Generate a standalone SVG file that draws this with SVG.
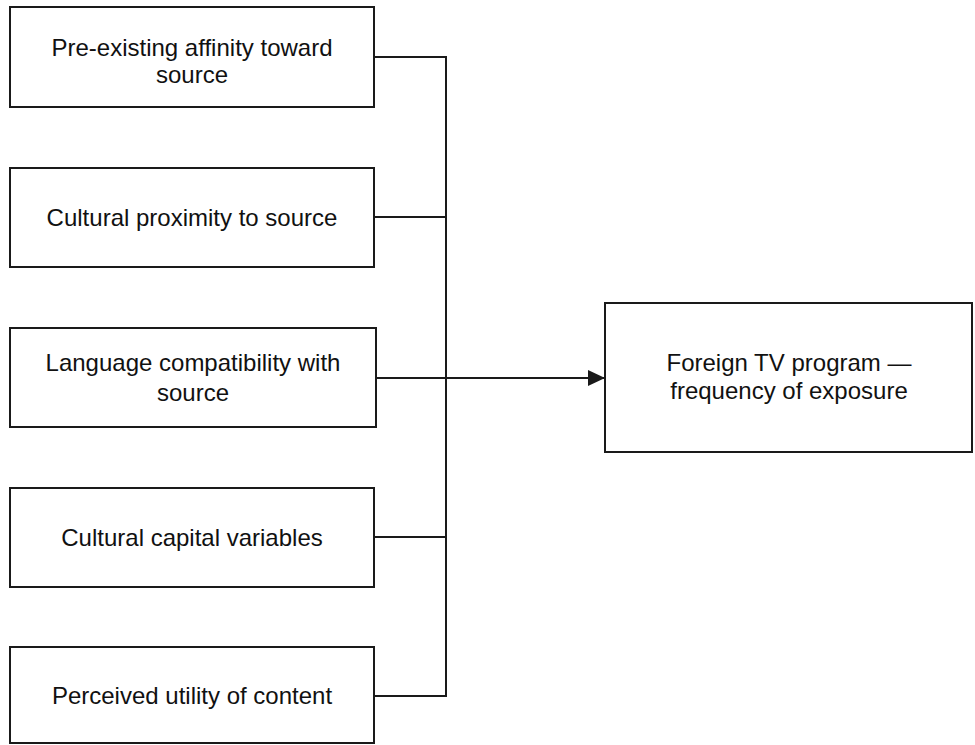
<svg xmlns="http://www.w3.org/2000/svg" width="975" height="745" viewBox="0 0 975 745">
<style>
.box{fill:#fff;stroke:#1a1a1a;stroke-width:2}
.t{font-family:"Liberation Sans",Arial,sans-serif;font-size:24px;fill:#111;text-anchor:middle}
.c{fill:none;stroke:#1a1a1a;stroke-width:2}
</style>
<defs>
<marker id="ah" markerWidth="17" markerHeight="16" refX="17" refY="8" orient="auto" markerUnits="userSpaceOnUse">
<path d="M0,0 L17,8 L0,16 Z" fill="#1a1a1a"/>
</marker>
</defs>
<rect width="975" height="745" fill="#fff"/>
<g id="n1"><rect class="box" x="10" y="7" width="364" height="100"/><text class="t" x="192" y="56">Pre-existing affinity toward</text><text class="t" x="192" y="83">source</text></g>
<g id="n2"><rect class="box" x="10" y="168" width="364" height="99"/><text class="t" x="192" y="226">Cultural proximity to source</text></g>
<g id="n3"><rect class="box" x="10" y="328" width="366" height="99"/><text class="t" x="193" y="371">Language compatibility with</text><text class="t" x="193" y="401">source</text></g>
<g id="n4"><rect class="box" x="10" y="488" width="364" height="99"/><text class="t" x="192" y="546">Cultural capital variables</text></g>
<g id="n5"><rect class="box" x="10" y="647" width="364" height="96"/><text class="t" x="192" y="704">Perceived utility of content</text></g>
<g id="n6"><rect class="box" x="605" y="303" width="367" height="149"/><text class="t" x="789" y="371">Foreign TV program —</text><text class="t" x="789" y="399">frequency of exposure</text></g>
<g id="connectors">
<path class="c" d="M374,57 H446 V696 H374"/>
<path class="c" d="M374,217 H446"/>
<path class="c" d="M374,537 H446"/>
<path class="c" d="M376,378 H605" marker-end="url(#ah)"/>
</g>
</svg>
